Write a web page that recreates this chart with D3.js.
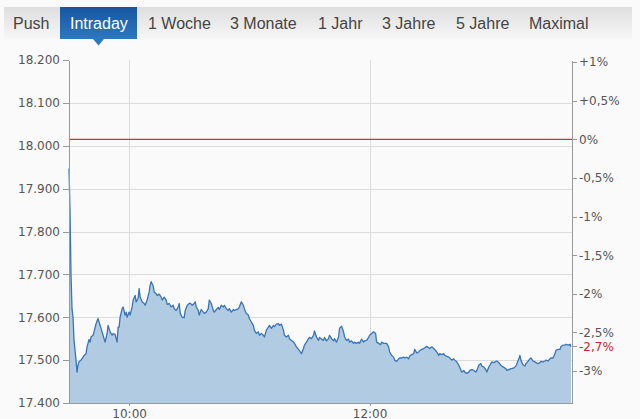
<!DOCTYPE html>
<html>
<head>
<meta charset="utf-8">
<script src="https://cdnjs.cloudflare.com/ajax/libs/d3/7.8.5/d3.min.js"></script>
<style>
  body { margin: 0; background: #fafafa; }
  svg { display: block; }
  .axis path, .axis line { stroke: #999; shape-rendering: crispEdges; }
  .axis text { font-family: "DejaVu Sans", Verdana, sans-serif; font-size: 12px; fill: #555; }
  .grid line { stroke: #dcdcdc; shape-rendering: crispEdges; }
  .tab { font-family: "Liberation Sans", Arial, sans-serif; font-size: 16px; fill: #444; }
</style>
</head>
<body>
<script>
// tabs across the top
var tabs = ["Push", "Intraday", "1 Woche", "3 Monate", "1 Jahr", "3 Jahre", "5 Jahre", "Maximal"];
var activeTab = "Intraday";

// previous close (0% line)
var refPrice = 18015;

// axis ticks
var yTicks = [17400, 17500, 17600, 17700, 17800, 17900, 18000, 18100, 18200];
var pctTicks = [1, 0.5, 0, -0.5, -1, -1.5, -2, -2.5, -3];
var timeTicks = ["10:00:00", "12:00:00"];
var timeDomain = ["09:30:00", "13:41:00"];

// intraday index quotes [time, points]
var intraday = [
  ["09:30:00",17947],["09:30:30",17850],["09:31:00",17700],["09:31:30",17620],["09:32:00",17600],
  ["09:32:30",17547],["09:33:00",17523],["09:33:30",17500],["09:34:00",17472],["09:34:30",17488],
  ["09:35:00",17496],["09:36:00",17500],["09:37:00",17507],["09:37:30",17511],["09:38:30",17515],
  ["09:39:00",17531],["09:40:00",17548],["09:40:30",17542],["09:41:00",17554],["09:42:00",17558],
  ["09:42:30",17566],["09:43:30",17585],["09:44:30",17597],["09:45:00",17589],["09:46:00",17574],
  ["09:46:30",17566],["09:47:00",17558],["09:48:00",17542],["09:49:00",17562],["09:49:30",17581],
  ["09:50:30",17566],["09:51:30",17558],["09:52:00",17562],["09:53:00",17560],["09:54:00",17542],
  ["09:54:30",17577],["09:55:00",17577],["09:55:30",17600],["09:56:30",17620],["09:57:00",17624],
  ["09:58:00",17605],["09:58:30",17612],["09:59:00",17600],["10:00:00",17612],["10:00:30",17605],
  ["10:01:30",17624],["10:02:00",17640],["10:03:00",17651],["10:03:30",17636],["10:04:30",17644],
  ["10:05:00",17667],["10:05:30",17647],["10:06:30",17636],["10:07:30",17632],["10:08:00",17628],
  ["10:09:00",17640],["10:10:00",17659],["10:10:30",17675],["10:11:00",17683],["10:12:00",17673],
  ["10:12:30",17659],["10:13:30",17655],["10:14:00",17651],["10:15:00",17654],["10:16:00",17647],
  ["10:16:30",17640],["10:17:30",17647],["10:18:30",17640],["10:19:00",17630],["10:20:00",17632],
  ["10:21:00",17624],["10:22:00",17628],["10:22:30",17620],["10:23:30",17616],["10:24:30",17624],
  ["10:25:00",17632],["10:25:30",17609],["10:26:30",17600],["10:27:30",17599],["10:28:00",17616],
  ["10:29:00",17628],["10:30:00",17632],["10:30:30",17633],["10:31:30",17628],["10:32:30",17632],
  ["10:33:00",17636],["10:33:30",17624],["10:34:30",17616],["10:35:00",17605],["10:36:00",17618],
  ["10:37:00",17612],["10:37:30",17609],["10:38:30",17612],["10:39:30",17620],["10:40:00",17640],
  ["10:41:00",17632],["10:42:00",17616],["10:42:30",17612],["10:43:30",17618],["10:44:30",17623],
  ["10:45:00",17618],["10:46:00",17628],["10:47:00",17624],["10:47:30",17628],["10:48:30",17620],
  ["10:49:30",17616],["10:50:00",17620],["10:51:00",17612],["10:52:00",17618],["10:52:30",17616],
  ["10:53:30",17618],["10:54:30",17620],["10:55:00",17624],["10:56:00",17636],["10:57:00",17628],
  ["10:57:30",17620],["10:58:30",17609],["10:59:30",17605],["11:00:00",17597],["11:01:00",17589],
  ["11:02:00",17581],["11:02:30",17570],["11:03:30",17562],["11:04:30",17566],["11:05:00",17558],
  ["11:06:00",17562],["11:07:00",17558],["11:07:30",17554],["11:08:30",17570],["11:09:30",17577],
  ["11:10:00",17581],["11:11:00",17574],["11:12:00",17581],["11:12:30",17578],["11:13:30",17584],
  ["11:14:30",17585],["11:15:00",17581],["11:16:00",17584],["11:17:00",17570],["11:17:30",17558],
  ["11:18:30",17554],["11:19:30",17558],["11:20:00",17550],["11:21:00",17546],["11:22:00",17542],
  ["11:22:30",17539],["11:23:30",17531],["11:24:30",17525],["11:25:00",17522],["11:26:00",17515],
  ["11:27:00",17527],["11:27:30",17535],["11:28:30",17542],["11:29:30",17550],["11:30:00",17553],
  ["11:31:00",17550],["11:32:00",17558],["11:32:30",17568],["11:33:30",17554],["11:34:30",17546],
  ["11:35:00",17553],["11:36:00",17549],["11:37:00",17546],["11:37:30",17553],["11:38:30",17545],
  ["11:39:30",17550],["11:40:00",17558],["11:41:00",17550],["11:42:00",17545],["11:42:30",17550],
  ["11:43:30",17542],["11:44:30",17554],["11:45:00",17574],["11:46:00",17579],["11:47:00",17566],
  ["11:47:30",17554],["11:48:30",17546],["11:49:30",17549],["11:50:00",17542],["11:51:00",17545],
  ["11:52:00",17539],["11:52:30",17542],["11:53:30",17539],["11:54:30",17542],["11:55:00",17539],
  ["11:56:00",17549],["11:57:00",17542],["11:57:30",17545],["11:58:30",17546],["11:59:30",17553],
  ["12:00:00",17558],["12:01:00",17562],["12:02:00",17566],["12:03:00",17562],["12:03:30",17542],
  ["12:04:30",17539],["12:05:30",17536],["12:06:00",17542],["12:07:00",17539],["12:08:00",17539],
  ["12:08:30",17539],["12:09:30",17531],["12:10:00",17519],["12:11:00",17511],["12:12:00",17507],
  ["12:12:30",17500],["12:13:30",17497],["12:14:30",17503],["12:15:00",17505],["12:16:00",17505],
  ["12:17:00",17507],["12:17:30",17505],["12:18:30",17507],["12:19:30",17503],["12:20:00",17509],
  ["12:21:00",17513],["12:22:00",17515],["12:22:30",17525],["12:23:30",17517],["12:24:30",17519],
  ["12:25:00",17522],["12:26:00",17525],["12:27:00",17527],["12:27:30",17529],["12:28:30",17532],
  ["12:29:30",17529],["12:30:00",17527],["12:31:00",17531],["12:32:00",17527],["12:32:30",17525],
  ["12:33:30",17519],["12:34:30",17511],["12:35:00",17515],["12:36:00",17513],["12:37:00",17515],
  ["12:37:30",17511],["12:38:30",17509],["12:39:30",17507],["12:40:00",17505],["12:41:00",17500],
  ["12:42:00",17503],["12:42:30",17500],["12:43:30",17496],["12:44:30",17488],["12:45:00",17483],
  ["12:46:00",17472],["12:47:00",17476],["12:47:30",17472],["12:48:30",17469],["12:49:30",17472],
  ["12:50:00",17476],["12:51:00",17478],["12:52:00",17476],["12:53:00",17472],["12:53:30",17476],
  ["12:54:30",17488],["12:55:30",17492],["12:56:00",17486],["12:57:00",17484],["12:58:00",17478],
  ["12:58:30",17472],["12:59:30",17484],["13:00:30",17492],["13:01:00",17496],["13:02:00",17494],
  ["13:03:00",17497],["13:03:30",17498],["13:04:30",17494],["13:05:30",17488],["13:06:00",17486],
  ["13:07:00",17483],["13:08:00",17480],["13:08:30",17476],["13:09:30",17478],["13:10:30",17480],
  ["13:11:00",17480],["13:12:00",17482],["13:13:00",17486],["13:13:30",17492],["13:14:30",17503],
  ["13:15:00",17511],["13:15:30",17500],["13:16:30",17490],["13:17:30",17486],["13:18:00",17492],
  ["13:19:00",17497],["13:20:00",17503],["13:20:30",17505],["13:21:30",17498],["13:22:30",17496],
  ["13:23:00",17494],["13:24:00",17492],["13:25:00",17494],["13:25:30",17497],["13:26:30",17496],
  ["13:27:30",17498],["13:28:00",17500],["13:29:00",17498],["13:30:00",17503],["13:30:30",17505],
  ["13:31:30",17505],["13:32:30",17515],["13:33:00",17523],["13:34:00",17525],["13:35:00",17525],
  ["13:35:30",17531],["13:36:30",17535],["13:37:30",17535],["13:38:00",17537],["13:39:00",17535],
  ["13:40:00",17537],["13:40:30",17531]
];

var W = 640, H = 419;
var margin = { top: 60, right: 68, bottom: 16, left: 69 },
    width = W - margin.left - margin.right,
    height = H - margin.top - margin.bottom;

var parseTime = d3.timeParse("%H:%M:%S");
var de = d3.formatLocale({ decimal: ",", thousands: ".", grouping: [3], currency: ["", " €"], minus: "-" });
var fmtPts = de.format(",.0f");
var fmtPct = function(v) {
   if (v === 0) return "0%";
   return (v > 0 ? "+" : "-") + de.format(".1~f")(Math.abs(v)) + "%";
};

var data = intraday.map(function(d) {
   return { date: parseTime(d[0]), value: d[1] };
});

var x = d3.scaleTime()
   .domain(timeDomain.map(parseTime))
   .range([0, width]);
var y = d3.scaleLinear()
   .domain([yTicks[0], yTicks[yTicks.length - 1]])
   .range([height, 0]);
var yPct = d3.scaleLinear()
   .domain(y.domain().map(function(v) { return (v / refPrice - 1) * 100; }))
   .range([height, 0]);

var svg = d3.select("body").append("svg")
   .attr("width", W)
   .attr("height", H);

// --- tab bar ---
var defs = svg.append("defs");
var barGrad = defs.append("linearGradient").attr("id", "barGrad")
   .attr("x1", 0).attr("y1", 0).attr("x2", 0).attr("y2", 1);
barGrad.append("stop").attr("offset", "0%").attr("stop-color", "#dedede");
barGrad.append("stop").attr("offset", "100%").attr("stop-color", "#f7f7f7");
var tabGrad = defs.append("linearGradient").attr("id", "tabGrad")
   .attr("x1", 0).attr("y1", 0).attr("x2", 0).attr("y2", 1);
tabGrad.append("stop").attr("offset", "0%").attr("stop-color", "#17569f");
tabGrad.append("stop").attr("offset", "100%").attr("stop-color", "#2c78c2");

svg.append("rect")
   .attr("x", 4).attr("y", 7)
   .attr("width", 628).attr("height", 32)
   .attr("fill", "url(#barGrad)");

var tabX = [13, 70, 148, 230, 318, 382, 456, 529];
var tabG = svg.append("g");
tabs.forEach(function(t, i) {
   if (t === activeTab) {
      tabG.append("rect")
         .attr("x", 60).attr("y", 7)
         .attr("width", 77).attr("height", 32)
         .attr("fill", "url(#tabGrad)");
      tabG.append("path")
         .attr("d", "M93,39 L104,39 L98.5,45.5 Z")
         .attr("fill", "#2c78c2");
   }
   tabG.append("text")
      .attr("class", "tab")
      .attr("x", tabX[i])
      .attr("y", 29)
      .style("fill", t === activeTab ? "#fff" : null)
      .text(t);
});

var g = svg.append("g")
   .attr("transform", "translate(" + margin.left + "," + margin.top + ")");

// grid
g.append("g").attr("class", "grid")
   .selectAll("line")
   .data(yTicks.slice(1, -1))
   .enter().append("line")
   .attr("x1", 0).attr("x2", width)
   .attr("y1", function(d) { return Math.round(y(d)) + 0.5; })
   .attr("y2", function(d) { return Math.round(y(d)) + 0.5; });

g.append("g").attr("class", "grid")
   .selectAll("line")
   .data(timeTicks.map(parseTime))
   .enter().append("line")
   .attr("x1", function(d) { return Math.round(x(d)) + 0.5; })
   .attr("x2", function(d) { return Math.round(x(d)) + 0.5; })
   .attr("y1", 0).attr("y2", height);

// area + line
var area = d3.area()
   .x(function(d) { return x(d.date); })
   .y0(height)
   .y1(function(d) { return y(d.value); });
var line = d3.line()
   .x(function(d) { return x(d.date); })
   .y(function(d) { return y(d.value); });

g.append("path")
   .datum(data)
   .attr("d", area)
   .attr("fill", "#b1cbe3");
g.append("path")
   .datum(data)
   .attr("d", line)
   .attr("fill", "none")
   .attr("stroke", "#3a74b5")
   .attr("stroke-width", 1.3)
   .attr("stroke-linejoin", "round");

// previous close line
g.append("line")
   .attr("x1", 0).attr("x2", width)
   .attr("y1", y(refPrice)).attr("y2", y(refPrice))
   .attr("stroke", "#c0393b")
   .attr("stroke-width", 1.3);

// axes
g.append("g")
   .attr("class", "axis")
   .call(d3.axisLeft(y).tickValues(yTicks).tickSize(6).tickSizeOuter(0).tickPadding(3).tickFormat(fmtPts));

g.append("g")
   .attr("class", "axis")
   .attr("transform", "translate(" + width + ",0)")
   .call(d3.axisRight(yPct).tickValues(pctTicks).tickSize(5).tickSizeOuter(0).tickPadding(2).tickFormat(fmtPct));

g.append("g")
   .attr("class", "axis")
   .attr("transform", "translate(0," + height + ")")
   .call(d3.axisBottom(x).tickValues(timeTicks.map(parseTime)).tickSize(3).tickSizeOuter(0).tickPadding(3)
      .tickFormat(d3.timeFormat("%H:%M")));

// current change marker on the right axis
var last = data[data.length - 1];
var lastPct = (last.value / refPrice - 1) * 100;
var cur = g.append("g")
   .attr("class", "axis")
   .attr("transform", "translate(" + width + "," + yPct(lastPct) + ")");
cur.append("line").attr("x2", 5);
cur.append("text")
   .attr("x", 7)
   .attr("dy", "0.32em")
   .style("fill", "#d0202a")
   .text(fmtPct(Math.round(lastPct * 10) / 10));
</script>
</body>
</html>
